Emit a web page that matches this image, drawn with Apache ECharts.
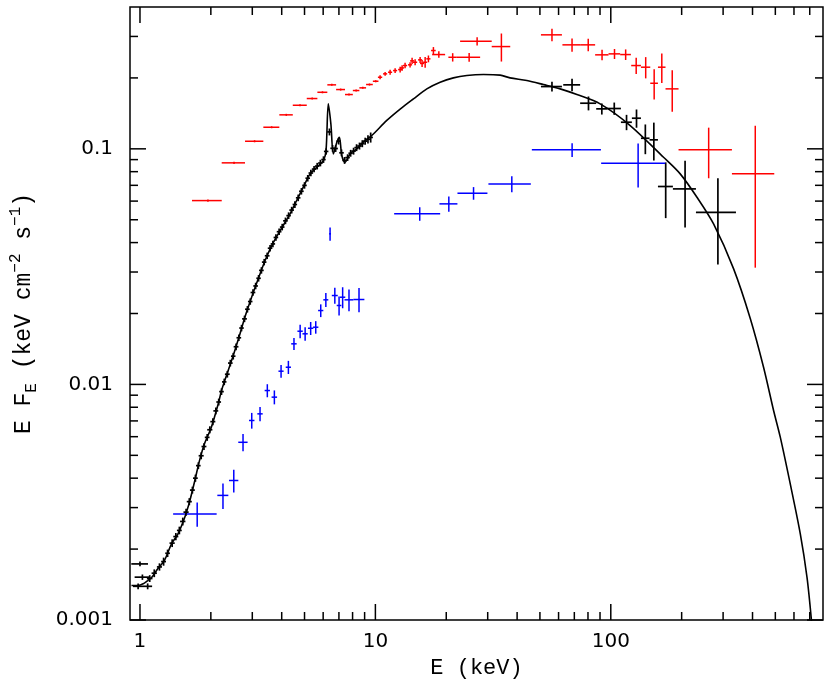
<!DOCTYPE html>
<html><head><meta charset="utf-8">
<script src="https://cdn.jsdelivr.net/npm/echarts@6/dist/echarts.min.js"></script>
<style>html,body{margin:0;padding:0;background:#fff}#c{width:830px;height:690px}</style>
</head><body><div id="c"></div><script>
// Model curve: [E (keV), E*F_E]
const modelCurve = [
[0.92,0.00140],[0.98,0.00140],[1.04,0.00143],[1.08,0.00147],[1.13,0.00153],[1.19,0.00165],[1.27,0.00179],
[1.36,0.00210],[1.45,0.00232],[1.55,0.00273],[1.63,0.00322],[1.71,0.00391],[1.79,0.00475],[1.88,0.00560],
[2.01,0.00658],[2.15,0.00827],[2.22,0.00942],[2.37,0.01146],[2.49,0.01326],[2.66,0.01640],[2.79,0.01929],
[2.98,0.02345],[3.18,0.02807],[3.40,0.03357],[3.63,0.03886],[3.94,0.04498],[4.34,0.05297],[4.63,0.06035],
[4.94,0.06871],[5.28,0.07831],[5.64,0.08355],[6.01,0.08919],[6.17,0.0983],[6.31,0.1552],[6.47,0.1277],
[6.63,0.0952],[6.86,0.1067],[7.03,0.1120],[7.20,0.0937],[7.43,0.0877],[7.81,0.0952],[8.34,0.1000],
[8.89,0.1067],[9.65,0.1139],[11.18,0.1320],[12.74,0.1475],[14.51,0.1630],[16.54,0.1797],[18.84,0.1918],
[21.45,0.2001],[24.46,0.2048],[28.77,0.2068],[33.88,0.2055],[37.33,0.2001],[43.99,0.1949],[51.76,0.1874],
[60.95,0.1797],[71.78,0.1700],[90.1,0.1552],[120.9,0.1256],[167.5,0.0921],[197.2,0.0783],[232.3,0.0623],
[273.3,0.0480],[332.2,0.0310],[391.3,0.01905],[445.6,0.01183],[491.5,0.00775],[524.8,0.00597],
[578.6,0.00378],[638.3,0.00232],[681.4,0.00152],[710.9,0.00101],[715,0.00090]
];
// Data points: [E, dE, F, dF]
const blackData = [
[1.000,0.0815,0.00173,0.00004],[1.024,0.075,0.00152,0.00004],[0.982,0.048,0.00139,0.00004],[1.078,0.048,0.00139,0.00004],
[1.10,0.03,0.00150,0.00005],[1.15,0.03,0.00158,0.00006],[1.21,0.03,0.00168,0.00006],[1.26,0.03,0.00177,0.00007],
[1.31,0.03,0.00192,0.00007],[1.37,0.035,0.00212,0.00008],[1.42,0.035,0.00226,0.00008],[1.47,0.035,0.00240,0.00009],
[1.52,0.04,0.00262,0.0001],[1.57,0.04,0.00287,0.0001],[1.62,0.04,0.00318,0.00011],[1.67,0.04,0.00356,0.00012],
[1.72,0.04,0.00400,0.00014],[1.77,0.04,0.00452,0.00015],[1.82,0.045,0.00498,0.00017],[1.87,0.045,0.00545,0.00018],
[1.93,0.045,0.00596,0.0002],[1.98,0.05,0.00642,0.00022],[2.04,0.05,0.00695,0.00024],[2.10,0.05,0.00772,0.00026],
[2.16,0.05,0.00842,0.00028],[2.22,0.05,0.00932,0.0003],[2.28,0.05,0.01025,0.00033],[2.35,0.055,0.01105,0.00036],
[2.42,0.055,0.01232,0.0004],[2.49,0.055,0.01318,0.00043],[2.56,0.06,0.01445,0.00047],[2.63,0.06,0.01578,0.0005],
[2.70,0.06,0.01735,0.00055],[2.78,0.065,0.01898,0.0006],[2.86,0.065,0.02085,0.00066],[2.94,0.065,0.02248,0.0007],
[3.02,0.07,0.02455,0.00078],[3.10,0.07,0.02618,0.00083],[3.19,0.07,0.02822,0.0009],[3.28,0.075,0.03048,0.00096],
[3.37,0.075,0.03305,0.00105],[3.47,0.08,0.03515,0.0011],[3.57,0.08,0.03785,0.0012],[3.67,0.08,0.03948,0.00125],
[3.78,0.085,0.04205,0.0013],[3.90,0.09,0.04448,0.0014],[4.02,0.09,0.04655,0.0015],[4.15,0.095,0.04948,0.0016],
[4.28,0.095,0.05205,0.0017],[4.41,0.10,0.05495,0.0018],[4.55,0.10,0.05805,0.0019],[4.70,0.105,0.06195,0.002],
[4.85,0.11,0.06605,0.0021],[5.00,0.11,0.06995,0.0022],[5.16,0.115,0.07505,0.0024],[5.32,0.12,0.07895,0.0025],
[5.49,0.12,0.08205,0.0026],[5.66,0.125,0.08448,0.0027],[5.84,0.13,0.08705,0.0028],[6.02,0.13,0.09005,0.0029],
[6.18,0.135,0.0975,0.003],[6.38,0.14,0.118,0.004],[6.58,0.145,0.1005,0.0033],[6.78,0.15,0.1003,0.0033],
[6.98,0.15,0.1078,0.0035],[7.18,0.16,0.0962,0.0032],[7.40,0.16,0.0893,0.003],[7.62,0.17,0.0918,0.003],
[7.85,0.17,0.0958,0.0032],[8.08,0.18,0.0978,0.0033],[8.32,0.18,0.1012,0.0034],[8.56,0.19,0.1028,0.0035],
[8.80,0.19,0.1052,0.0036],[9.05,0.20,0.1078,0.0037],[9.30,0.20,0.1098,0.0045],[9.55,0.21,0.1118,0.0055],
[56.25,5.75,0.1838,0.0087],[68.45,5.65,0.1869,0.0114],[80.40,6.30,0.1562,0.0106],[91.60,4.90,0.1478,0.0080],
[103.45,6.95,0.1483,0.0089],[116.65,6.25,0.1297,0.0097],[128.6,5.70,0.1349,0.0120],[140.2,5.90,0.1109,0.0160],
[152.35,6.25,0.1092,0.0200],[171.1,12.5,0.0692,0.0184],[206.8,23.2,0.0676,0.0213],[285.1,55.1,0.0537,0.0214]
];
const redData = [
[1.944,0.281,0.0603,0.0007],[2.509,0.285,0.0872,0.0009],[3.068,0.274,0.1077,0.0011],[3.625,0.283,0.1235,0.0012],
[4.183,0.275,0.1394,0.0014],[4.784,0.327,0.1531,0.0015],[5.390,0.280,0.1635,0.0016],[5.960,0.290,0.1738,0.0017],
[6.530,0.280,0.1869,0.0018],[7.120,0.310,0.1785,0.0018],[7.725,0.295,0.1700,0.0017],[8.285,0.265,0.1768,0.0018],
[8.840,0.290,0.1815,0.0018],[9.440,0.310,0.1875,0.0019],[10.03,0.275,0.1936,0.002],[10.47,0.22,0.2013,0.004],
[11.00,0.22,0.2081,0.004],[11.55,0.23,0.2114,0.005],[12.13,0.24,0.2149,0.005],[12.74,0.25,0.2170,0.006],
[12.99,0.25,0.2205,0.006],[13.37,0.27,0.2257,0.006],[14.04,0.28,0.2273,0.006],[14.32,0.28,0.2363,0.007],
[14.75,0.30,0.2331,0.007],[15.49,0.31,0.2386,0.007],[15.79,0.32,0.2304,0.008],[16.27,0.33,0.2331,0.012],
[16.80,0.34,0.2410,0.008],[17.64,0.40,0.2614,0.009],[18.60,1.18,0.2513,0.008],[21.30,0.88,0.2447,0.010],
[25.02,2.84,0.2447,0.0105],[27.05,4.15,0.2862,0.0116],[34.30,3.10,0.2717,0.037],[56.25,5.75,0.3047,0.0184],
[68.45,6.15,0.2763,0.018],[80.20,5.60,0.2763,0.0167],[91.80,6.00,0.2506,0.013],[103.7,5.90,0.2530,0.0124],
[115.65,6.05,0.2513,0.013],[128.2,6.10,0.2257,0.018],[140.7,6.40,0.2221,0.023],[152.85,5.75,0.1898,0.028],
[164.7,6.10,0.2221,0.032],[182.4,11.6,0.1797,0.036],[260.5,66.5,0.0990,0.024],[410.9,83.9,0.0783,0.047]
];
const blueData = [
[1.750,0.367,0.00282,0.00033],[2.252,0.121,0.00338,0.00042],[2.503,0.114,0.00391,0.00043],[2.740,0.125,0.00568,0.00048],
[2.984,0.080,0.00703,0.00054],[3.236,0.085,0.00750,0.00052],[3.475,0.090,0.00942,0.0006],[3.723,0.100,0.00883,0.0006],
[3.975,0.100,0.01138,0.0007],[4.270,0.110,0.01183,0.00076],[4.510,0.120,0.01487,0.00087],[4.790,0.125,0.01682,0.0011],
[5.030,0.130,0.01640,0.00107],[5.310,0.140,0.01731,0.0011],[5.580,0.145,0.01749,0.00107],[5.860,0.150,0.02059,0.00128],
[6.160,0.150,0.02286,0.00156],[6.420,0.060,0.04357,0.0028],[6.725,0.195,0.02384,0.00186],[7.010,0.160,0.02163,0.0020],
[7.260,0.190,0.02345,0.0024],[7.725,0.335,0.02286,0.0024],[8.520,0.460,0.02293,0.0027],[15.43,3.415,0.0530,0.0035],
[20.51,1.80,0.0584,0.0043],[26.12,3.805,0.0648,0.0040],[37.98,7.77,0.0710,0.0055],[68.50,22.3,0.0990,0.0067],
[130.65,39.65,0.0869,0.0184]
];
const xTickLabels = [1, 10, 100];
const yTickLabels = [0.001, 0.01, 0.1];
const xMinorTicks = [2,3,4,5,6,7,8,9,20,30,40,50,60,70,80,90,200,300,400,500,600,700];
const yMinorTicks = [0.002,0.003,0.004,0.005,0.006,0.007,0.008,0.009,0.02,0.03,0.04,0.05,0.06,0.07,0.08,0.09,0.2,0.3];
const xRange = [0.907, 797];
const yRange = [0.001, 0.4];

const chart = echarts.init(document.getElementById('c'), null, {renderer: 'canvas'});

function matchLabel(list, v) {
  for (const t of list) if (Math.abs(Math.log10(v) - Math.log10(t)) < 1e-6) return String(t);
  return '';
}
function crossSeries(data, color, lw) {
  return {
    type: 'custom', data: data, clip: true, silent: true,
    encode: {x: 0, y: 2},
    renderItem: function (params, api) {
      const E = api.value(0), dE = api.value(1), F = api.value(2), dF = api.value(3);
      const pL = api.coord([E - dE, F]), pR = api.coord([E + dE, F]);
      const pB = api.coord([E, F - dF]), pT = api.coord([E, F + dF]);
      const st = {stroke: color, lineWidth: lw};
      return {type: 'group', children: [
        {type: 'line', shape: {x1: pL[0], y1: pL[1], x2: pR[0], y2: pR[1]}, style: st},
        {type: 'line', shape: {x1: pB[0], y1: pB[1], x2: pT[0], y2: pT[1]}, style: st}
      ]};
    }
  };
}
function tickSeries(values, isX, len) {
  return {
    type: 'custom', silent: true, clip: false,
    data: values.map(v => isX ? [v, yRange[0]] : [xRange[0], v]),
    encode: {x: 0, y: 1},
    renderItem: function (params, api) {
      const cs = params.coordSys;
      const p = api.coord([api.value(0), api.value(1)]);
      const st = {stroke: '#000', lineWidth: 1.5};
      if (isX) {
        return {type: 'group', children: [
          {type: 'line', shape: {x1: p[0], y1: cs.y + cs.height, x2: p[0], y2: cs.y + cs.height - len}, style: st},
          {type: 'line', shape: {x1: p[0], y1: cs.y, x2: p[0], y2: cs.y + len}, style: st}
        ]};
      }
      return {type: 'group', children: [
        {type: 'line', shape: {x1: cs.x, y1: p[1], x2: cs.x + len, y2: p[1]}, style: st},
        {type: 'line', shape: {x1: cs.x + cs.width, y1: p[1], x2: cs.x + cs.width - len, y2: p[1]}, style: st}
      ]};
    }
  };
}

const option = {
  backgroundColor: '#fff',
  animation: false,
  grid: {left: 130, right: 7, top: 7, bottom: 70, show: true, borderColor: '#000', borderWidth: 1.5, backgroundColor: 'transparent'},
  xAxis: {
    type: 'log', logBase: 10, min: xRange[0], max: xRange[1],
    axisLine: {show: false}, axisTick: {show: false}, splitLine: {show: false},
    axisLabel: {formatter: v => matchLabel(xTickLabels, v), margin: 12, fontSize: 20, color: '#000', fontFamily: 'DejaVu Sans', showMinLabel: true, showMaxLabel: true},
    name: 'E (keV)', nameLocation: 'middle', nameGap: 34,
    nameTextStyle: {fontFamily: 'Liberation Mono', fontSize: 22, color: '#000'}
  },
  yAxis: {
    type: 'log', logBase: 10, min: yRange[0], max: yRange[1],
    axisLine: {show: false}, axisTick: {show: false}, splitLine: {show: false},
    axisLabel: {formatter: v => matchLabel(yTickLabels, v), margin: 17, fontSize: 20, color: '#000', fontFamily: 'DejaVu Sans'},
    name: '{n|E F}{sub|E}{n| (keV cm}{sup|−2}{n| s}{sup|−1}{n|)}',
    nameLocation: 'middle', nameGap: 90,
    nameTextStyle: {
      color: '#000', fontFamily: 'Liberation Mono', fontSize: 23,
      rich: {
        n: {fontFamily: 'Liberation Mono', fontSize: 23, color: '#000', lineHeight: 32},
        sub: {fontFamily: 'Liberation Mono', fontSize: 16, color: '#000', verticalAlign: 'bottom', lineHeight: 32},
        sup: {fontFamily: 'Liberation Mono', fontSize: 16, color: '#000', verticalAlign: 'top', lineHeight: 32}
      }
    }
  },
  series: [
    tickSeries(xTickLabels, true, 16),
    tickSeries(xMinorTicks, true, 8),
    tickSeries(yTickLabels, false, 16),
    tickSeries(yMinorTicks, false, 8),
    {type: 'line', data: modelCurve, showSymbol: false, symbol: 'none', smooth: 0.3, silent: true,
     lineStyle: {color: '#000', width: 1.6}},
    crossSeries(blackData, '#000', 1.7),
    crossSeries(redData, '#ff0000', 1.5),
    crossSeries(blueData, '#0000ff', 1.5)
  ]
};
chart.setOption(option);
</script></body></html>
